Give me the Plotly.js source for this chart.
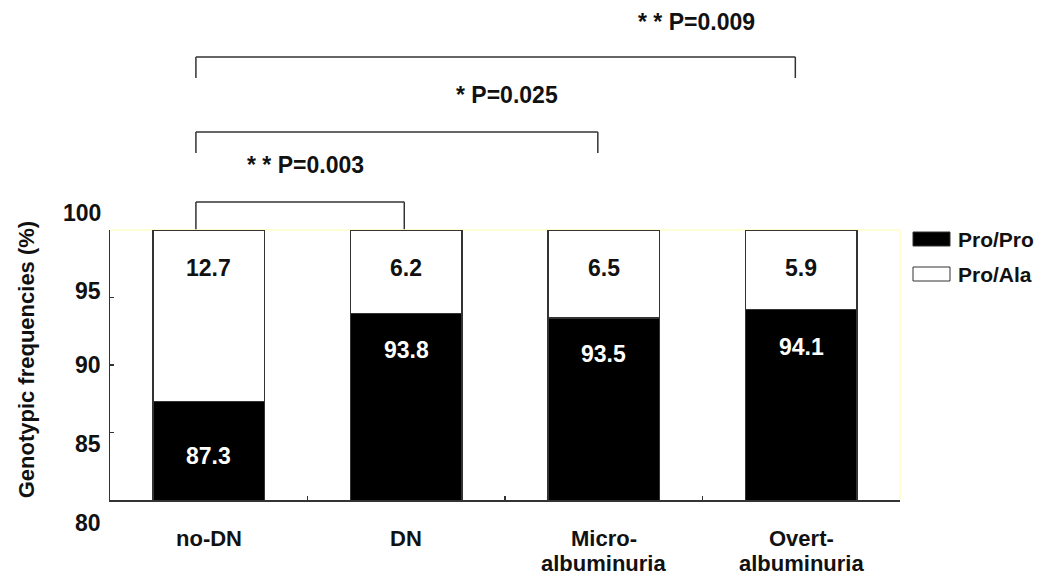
<!DOCTYPE html>
<html>
<head>
<meta charset="utf-8">
<script src="https://cdn.plot.ly/plotly-3.0.1.min.js"></script>
<style>html,body{margin:0;padding:0;background:#fff;}#chart{width:1051px;height:578px;}</style>
</head>
<body>
<div id="chart"></div>
<script>
// ---- data ----
const categories = ['no-DN', 'DN', 'Micro-albuminuria', 'Overt-albuminuria'];
const categoryLabels = [['no-DN'], ['DN'], ['Micro-', 'albuminuria'], ['Overt-', 'albuminuria']];
const proPro = [87.3, 93.8, 93.5, 94.1];
const proAla = [12.7, 6.2, 6.5, 5.9];
const seriesNames = ['Pro/Pro', 'Pro/Ala'];
const yTickVals = [80, 85, 90, 95, 100];
const yTickLabels = ['80', '85', '90', '95', '100'];
const comparisons = [[0, 1], [0, 2], [0, 3]];
const pLabels = ['* * P=0.003', '* P=0.025', '* * P=0.009'];

// ---- style ----
const FONT = 'Liberation Sans, Arial, sans-serif';
const INK = '#111111';
const LINE = '#333333';
const FS = 23;
const yLabelShift = [-23, -11, 0, 7, 17];
const blackLabelShift = [-55, -36, -36, -37];
const catLineShift = [-38, -63];
const bracketTop = [1.104, 1.363, 1.641];
const bracketLeg = [1.003, 1.285, 1.563];
const pTextY = [1.241, 1.50, 1.770];
const pTextX = [0.247, 0.5025, 0.743];
const leftLegShift = -0.065;
const rightLegShift = [-0.01, -0.03, -0.03];

const nCat = categories.length;
const catPaper = (i, s) => (i + 0.5 + s) / nCat;

const traces = [
  {type: 'bar', x: categories, y: proPro, name: seriesNames[0], width: 0.567,
   marker: {color: '#000000', line: {color: LINE, width: 1.5}}, hoverinfo: 'skip'},
  {type: 'bar', x: categories, y: proAla, name: seriesNames[1], width: 0.567,
   marker: {color: '#ffffff', line: {color: LINE, width: 1.5}}, hoverinfo: 'skip'}
];

const annotations = [];
const shapes = [];
const bold = (size, color) => ({family: FONT, size: size, color: color || INK, weight: 'bold'});

// value labels + category labels
categories.forEach((c, i) => {
  annotations.push({x: c, y: proPro[i], xref: 'x', yref: 'y', xanchor: 'center', yanchor: 'middle',
    yshift: blackLabelShift[i], showarrow: false, text: proPro[i].toFixed(1), font: bold(FS, '#ffffff')});
  annotations.push({x: c, y: proPro[i] + proAla[i], xref: 'x', yref: 'y', xanchor: 'center', yanchor: 'middle',
    yshift: -38, showarrow: false, text: proAla[i].toFixed(1), font: bold(FS)});
  categoryLabels[i].forEach((line, j) => {
    annotations.push({x: c, y: 0, xref: 'x', yref: 'paper', xanchor: 'center', yanchor: 'middle',
      yshift: catLineShift[j], showarrow: false, text: line, font: bold(22)});
  });
});

// y tick labels
yTickVals.forEach((v, i) => {
  annotations.push({x: 0, y: v, xref: 'paper', yref: 'y', xanchor: 'right', yanchor: 'middle', xshift: -7,
    yshift: yLabelShift[i], showarrow: false, text: yTickLabels[i], font: bold(FS)});
});

// y axis title
annotations.push({x: -0.106, y: 0.522, xref: 'paper', yref: 'paper', xanchor: 'center', yanchor: 'middle',
  textangle: -90, showarrow: false, text: 'Genotypic frequencies (%)', font: bold(22)});

// significance brackets
comparisons.forEach((pair, k) => {
  const x0 = catPaper(pair[0], leftLegShift), x1 = catPaper(pair[1], rightLegShift[k]);
  const ln = {color: LINE, width: 1.5};
  shapes.push({type: 'line', xref: 'paper', yref: 'paper', x0: x0, x1: x1, y0: bracketTop[k], y1: bracketTop[k], line: ln});
  shapes.push({type: 'line', xref: 'paper', yref: 'paper', x0: x0, x1: x0, y0: bracketLeg[k], y1: bracketTop[k], line: ln});
  shapes.push({type: 'line', xref: 'paper', yref: 'paper', x0: x1, x1: x1, y0: bracketLeg[k], y1: bracketTop[k], line: ln});
  annotations.push({x: pTextX[k], y: pTextY[k], xref: 'paper', yref: 'paper', xanchor: 'center', yanchor: 'middle',
    showarrow: false, text: pLabels[k], font: bold(FS)});
});

// pale frame top/right
shapes.push({type: 'line', xref: 'paper', yref: 'paper', x0: 0, x1: 1, y0: 1, y1: 1, line: {color: '#ffffc4', width: 1.5}, layer: 'below'});
shapes.push({type: 'line', xref: 'paper', yref: 'paper', x0: 1, x1: 1, y0: 0, y1: 1, line: {color: '#ffffc4', width: 1.5}, layer: 'below'});

// legend (custom)
const legY = [1 - (239 - 230) / 270, 1 - (274 - 230) / 270];
const legColors = ['#000000', '#ffffff'];
seriesNames.forEach((n, i) => {
  const yc = legY[i];
  shapes.push({type: 'rect', xref: 'paper', yref: 'paper', x0: (913 - 110) / 790, x1: (950 - 110) / 790,
    y0: yc - 7 / 270, y1: yc + 7 / 270, fillcolor: legColors[i], line: {color: LINE, width: 1}});
  annotations.push({x: (956 - 110) / 790, y: yc, xref: 'paper', yref: 'paper', xanchor: 'left', yanchor: 'middle',
    showarrow: false, text: n, font: bold(21)});
});

const layout = {
  width: 1051, height: 578,
  margin: {l: 110, r: 151, t: 230, b: 78},
  paper_bgcolor: '#ffffff', plot_bgcolor: '#ffffff',
  barmode: 'stack', showlegend: false,
  xaxis: {type: 'category', categoryorder: 'array', categoryarray: categories,
    showticklabels: false, tickson: 'boundaries', ticks: 'inside', ticklen: 4, tickcolor: LINE, tickwidth: 1.5,
    showline: true, linecolor: LINE, linewidth: 1.5, showgrid: false, zeroline: false, range: [-0.5, 3.5]},
  yaxis: {range: [80, 100], tickvals: [85, 90, 95], showticklabels: false, ticks: 'inside', ticklen: 4,
    tickcolor: LINE, tickwidth: 1.5, showline: true, linecolor: LINE, linewidth: 1.5, showgrid: false, zeroline: false},
  annotations: annotations,
  shapes: shapes
};

Plotly.newPlot('chart', traces, layout, {displayModeBar: false, staticPlot: true});
</script>
</body>
</html>
